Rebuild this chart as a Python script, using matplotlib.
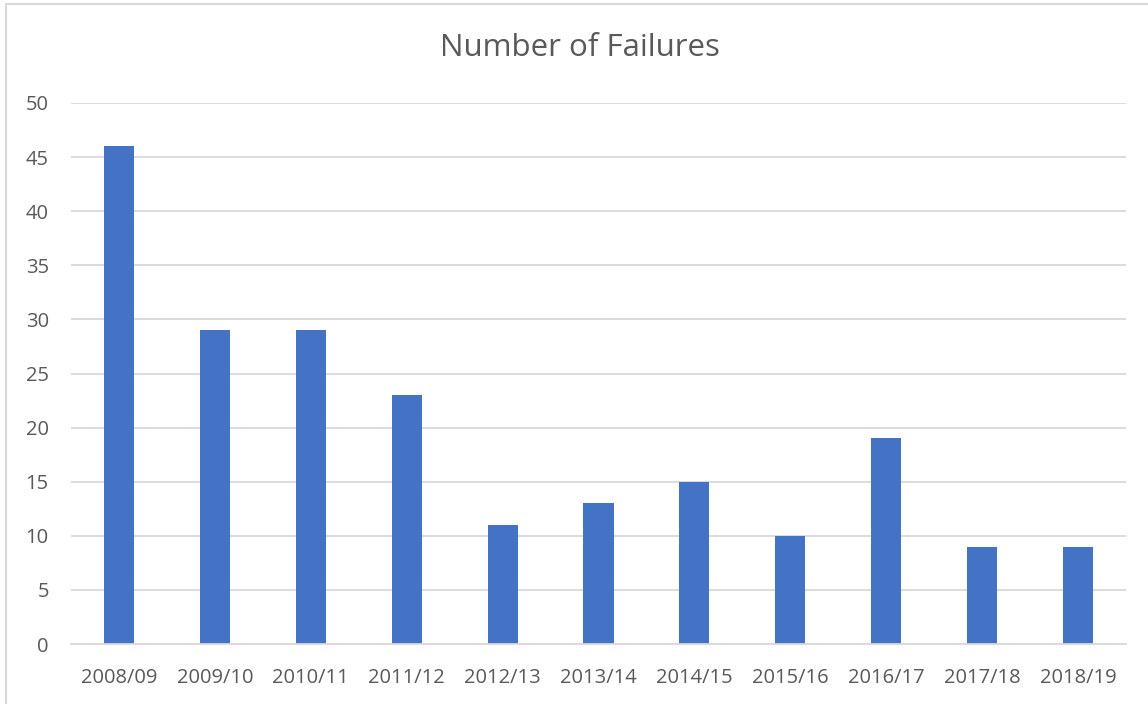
import matplotlib.pyplot as plt
from matplotlib.patches import Rectangle

# Data
seasons = ["2008/09", "2009/10", "2010/11", "2011/12", "2012/13", "2013/14",
           "2014/15", "2015/16", "2016/17", "2017/18", "2018/19"]
failures = [46, 29, 29, 23, 11, 13, 15, 10, 19, 9, 9]
y_ticks = [0, 5, 10, 15, 20, 25, 30, 35, 40, 45, 50]

text_col = "#595959"
grid_col = "#D9D9D9"
bar_col = "#4472C4"

plt.rcParams["font.family"] = ["Open Sans", "DejaVu Sans"]

fig = plt.figure(figsize=(11.48, 7.04), dpi=100)
W, H = 1148, 704
ax = fig.add_axes([71 / W, 1 - 644 / H, (1126 - 71) / W, (644 - 103) / H])

# outer chart border (only top and left visible in the picture)
fig.patches.append(Rectangle((6 / W, -0.1), 1.2, 1 - 4 / H + 0.1,
                             transform=fig.transFigure, fill=False,
                             edgecolor=grid_col, linewidth=1.5))

x = range(len(seasons))
ax.bar(x, failures, width=0.313, color=bar_col, zorder=3)

ax.set_xlim(-0.5, len(seasons) - 0.5)
ax.set_ylim(0, 50)
ax.set_yticks(y_ticks)
ax.set_xticks(list(x))
ax.set_xticklabels(seasons)

ax.grid(axis="y", color=grid_col, linewidth=1.3, zorder=0)
for side in ["top", "right", "left"]:
    ax.spines[side].set_visible(False)
ax.spines["bottom"].set_color(grid_col)
ax.spines["bottom"].set_linewidth(1.3)
ax.spines["bottom"].set_zorder(4)

ax.tick_params(axis="both", length=0, labelsize=14.5, labelcolor=text_col)
ax.tick_params(axis="y", pad=16)
ax.tick_params(axis="x", pad=17)

fig.text(580 / W, 1 - 48 / H, "Number of Failures", ha="center", va="center",
         fontsize=22.5, color=text_col)

fig.savefig("out.png", dpi=100)
